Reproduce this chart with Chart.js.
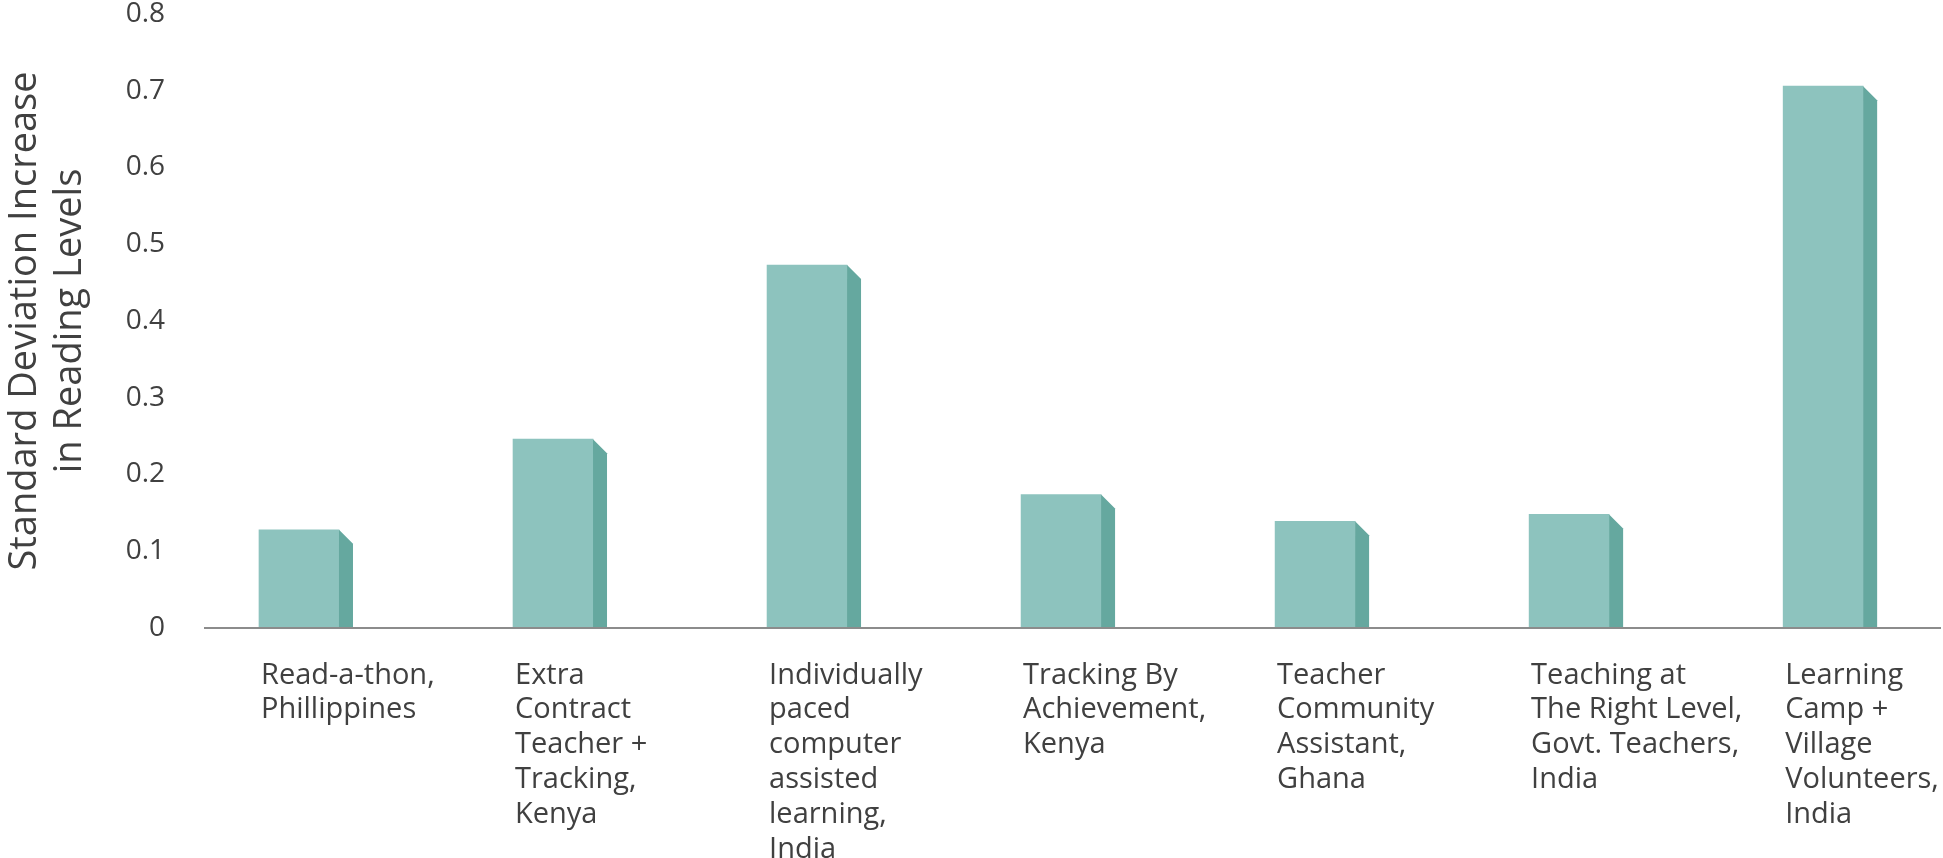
<!DOCTYPE html>
<html>
<head>
<meta charset="utf-8">
<script src="https://cdn.jsdelivr.net/npm/chart.js@4.4.1/dist/chart.umd.min.js"></script>
<style>
  html, body { margin: 0; padding: 0; background: #fff; }
  #wrap { width: 1943px; height: 858px; }
</style>
</head>
<body>
<div id="wrap"><canvas id="chart"></canvas></div>
<script>
// data
const categories = [
  ['Read-a-thon,', 'Phillippines'],
  ['Extra', 'Contract', 'Teacher +', 'Tracking,', 'Kenya'],
  ['Individually', 'paced', 'computer', 'assisted', 'learning,', 'India'],
  ['Tracking By', 'Achievement,', 'Kenya'],
  ['Teacher', 'Community', 'Assistant,', 'Ghana'],
  ['Teaching at', 'The Right Level,', 'Govt. Teachers,', 'India'],
  ['Learning', 'Camp +', 'Village', 'Volunteers,', 'India']
];
const sdIncrease = [0.128, 0.246, 0.473, 0.174, 0.139, 0.148, 0.706];
const yTickLabels = ['0', '0.1', '0.2', '0.3', '0.4', '0.5', '0.6', '0.7', '0.8'];
const yTitle = ['Standard Deviation Increase', 'in Reading Levels'];

const FRONT = '#8dc3be';
const SIDE = '#65a89f';
const TEXT = '#404040';
const FONT = "'Open Sans', sans-serif";
const DEPTH = 14;   // side face of the "3d" column

// draws the darker side face to the right of each column
const sideFaces = {
  id: 'sideFaces',
  afterDatasetsDraw(chart) {
    const ctx = chart.ctx;
    const base = chart.scales.y.getPixelForValue(0);
    ctx.save();
    ctx.fillStyle = SIDE;
    chart.getDatasetMeta(0).data.forEach(bar => {
      const right = bar.x + bar.width / 2;
      ctx.beginPath();
      ctx.moveTo(right, bar.y);
      ctx.lineTo(right + DEPTH, bar.y + DEPTH);
      ctx.lineTo(right + DEPTH, base);
      ctx.lineTo(right, base);
      ctx.closePath();
      ctx.fill();
    });
    ctx.restore();
  }
};

new Chart(document.getElementById('chart'), {
  type: 'bar',
  data: {
    datasets: [{
      data: sdIncrease.map((v, i) => ({ x: i, y: v })),
      backgroundColor: FRONT,
      borderWidth: 0,
      barThickness: 80
    }]
  },
  plugins: [sideFaces],
  options: {
    responsive: true,
    maintainAspectRatio: false,
    animation: false,
    layout: { padding: { top: 1, right: 3, left: 0, bottom: 0 } },
    plugins: {
      legend: { display: false },
      tooltip: { enabled: false }
    },
    scales: {
      x: {
        type: 'linear',
        offset: false,
        min: -0.37,
        max: 6.46,
        grid: { display: false, drawTicks: false },
        border: { display: true, color: '#8c8c8c', width: 2, z: 1 },
        // one tick per category
        afterBuildTicks(scale) {
          scale.ticks = categories.map((c, i) => ({ value: i }));
        },
        ticks: {
          align: 'start',
          labelOffset: -38,
          padding: 30,
          autoSkip: false,
          maxRotation: 0,
          minRotation: 0,
          color: TEXT,
          font: { family: FONT, size: 29, lineHeight: 1.2 },
          callback: (v) => categories[Math.round(v)]
        },
        afterFit(scale) {
          scale.height = 230;
          scale.paddingLeft = 0;
          scale.paddingRight = 0;
        }
      },
      y: {
        min: 0,
        max: 0.8,
        grid: { display: false, drawTicks: false },
        border: { display: false },
        ticks: {
          stepSize: 0.1,
          padding: 40,
          color: TEXT,
          font: { family: FONT, size: 28, lineHeight: 1 },
          callback: (v, i) => yTickLabels[i]
        },
        title: {
          display: true,
          text: yTitle,
          color: TEXT,
          font: { family: FONT, size: 38, lineHeight: 1.2 },
          padding: { top: 2, bottom: 20 }
        },
        afterFit(scale) {
          scale.width = 205;
          scale.paddingTop = 14;
          scale.paddingBottom = 0;
        }
      }
    }
  }
});
</script>
</body>
</html>
